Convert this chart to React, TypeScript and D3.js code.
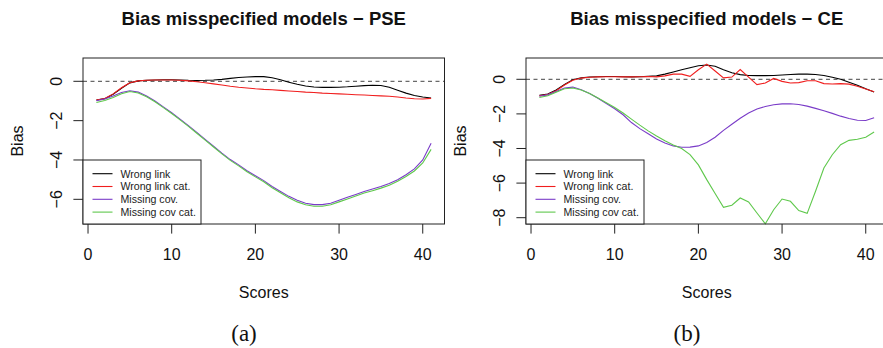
import React from "react";
import * as d3 from "d3";

const scores = [1,2,3,4,5,6,7,8,9,10,11,12,13,14,15,16,17,18,19,20,21,22,23,24,25,26,27,28,29,30,31,32,33,34,35,36,37,38,39,40,41];

const seriesNames = ["Wrong link", "Wrong link cat.", "Missing cov.", "Missing cov cat."];
const seriesColors = ["#000000", "#F01E1E", "#7A3CC8", "#5FC84C"];

// Panel (a): PSE
const wrongLinkPSE = [-0.95,-0.88,-0.66,-0.35,-0.08,0.02,0.05,0.07,0.08,0.08,0.07,0.05,0.04,0.05,0.07,0.1,0.15,0.19,0.22,0.24,0.24,0.18,0.08,-0.05,-0.15,-0.24,-0.29,-0.31,-0.31,-0.3,-0.28,-0.25,-0.22,-0.2,-0.21,-0.3,-0.45,-0.6,-0.72,-0.8,-0.85];
const wrongLinkCatPSE = [-0.95,-0.87,-0.64,-0.33,-0.07,0.02,0.05,0.07,0.07,0.07,0.05,0.02,-0.02,-0.07,-0.13,-0.19,-0.25,-0.3,-0.34,-0.38,-0.41,-0.43,-0.46,-0.49,-0.52,-0.55,-0.57,-0.6,-0.62,-0.64,-0.66,-0.68,-0.7,-0.72,-0.74,-0.76,-0.8,-0.85,-0.89,-0.9,-0.87];
const missingCovPSE = [-0.99,-0.9,-0.75,-0.57,-0.48,-0.55,-0.75,-1.0,-1.3,-1.6,-1.92,-2.25,-2.6,-2.95,-3.3,-3.65,-3.98,-4.25,-4.55,-4.8,-5.05,-5.35,-5.6,-5.85,-6.05,-6.2,-6.27,-6.27,-6.2,-6.05,-5.9,-5.75,-5.6,-5.48,-5.35,-5.2,-5.0,-4.75,-4.45,-4.0,-3.15];
const missingCovCatPSE = [-1.08,-0.98,-0.82,-0.63,-0.52,-0.59,-0.79,-1.04,-1.34,-1.64,-1.96,-2.29,-2.64,-2.99,-3.34,-3.69,-4.02,-4.3,-4.6,-4.86,-5.11,-5.41,-5.67,-5.92,-6.13,-6.28,-6.35,-6.35,-6.28,-6.13,-5.98,-5.83,-5.68,-5.56,-5.43,-5.28,-5.08,-4.84,-4.56,-4.15,-3.46];

// Panel (b): CE
const wrongLinkCE = [-0.92,-0.85,-0.62,-0.3,-0.03,0.08,0.13,0.15,0.16,0.16,0.15,0.14,0.15,0.17,0.2,0.3,0.42,0.55,0.67,0.78,0.83,0.75,0.55,0.38,0.27,0.22,0.21,0.21,0.22,0.25,0.28,0.3,0.3,0.28,0.22,0.12,0.0,-0.17,-0.35,-0.55,-0.73];
const wrongLinkCatCE = [-0.95,-0.88,-0.66,-0.33,-0.06,0.07,0.12,0.14,0.15,0.15,0.14,0.14,0.15,0.16,0.14,0.2,0.3,0.3,0.17,0.55,0.88,0.48,0.08,0.13,0.56,0.13,-0.31,-0.21,0.05,-0.12,-0.21,-0.19,-0.08,-0.08,-0.25,-0.27,-0.25,-0.28,-0.4,-0.56,-0.72];
const missingCovCE = [-0.98,-0.9,-0.7,-0.5,-0.45,-0.6,-0.82,-1.1,-1.4,-1.7,-2.05,-2.5,-2.85,-3.15,-3.45,-3.68,-3.85,-3.93,-3.92,-3.85,-3.65,-3.35,-2.95,-2.6,-2.25,-1.95,-1.72,-1.57,-1.47,-1.42,-1.41,-1.46,-1.55,-1.68,-1.82,-1.97,-2.13,-2.27,-2.37,-2.38,-2.22];
const missingCovCatCE = [-1.05,-0.95,-0.75,-0.55,-0.5,-0.62,-0.82,-1.08,-1.35,-1.63,-1.95,-2.3,-2.65,-2.98,-3.28,-3.55,-3.8,-4.0,-4.35,-4.95,-5.8,-6.6,-7.4,-7.28,-6.86,-7.09,-7.73,-8.35,-7.54,-6.92,-7.05,-7.59,-7.75,-6.47,-5.13,-4.36,-3.78,-3.53,-3.47,-3.35,-3.05];

const xTicks = [0, 10, 20, 30, 40];
const yTicksPSE = [0, -2, -4, -6];
const yTicksCE = [0, -2, -4, -6, -8];

const titles = ["Bias misspecified models \u2212 PSE", "Bias misspecified models \u2212 CE"];
const captions = ["(a)", "(b)"];

const FONT = "'Liberation Sans', Arial, Helvetica, sans-serif";

type PanelProps = {
  offsetX: number;
  title: string;
  caption: string;
  series: number[][];
  yDomain: [number, number];
  yTicks: number[];
};

function fmt(v: number) {
  return v < 0 ? "\u2212" + Math.abs(v) : String(v);
}

function Panel({ offsetX, title, caption, series, yDomain, yTicks }: PanelProps) {
  const left = 83 + offsetX;
  const right = left + 361.5;
  const top = 58;
  const bottom = 224;
  const x = d3.scaleLinear().domain([-0.6, 42.6]).range([left, right]);
  const y = d3.scaleLinear().domain(yDomain).range([bottom, top]);
  const line = d3
    .line<number>()
    .x((_, i) => x(scores[i]))
    .y((d) => y(d));
  const cx = (left + right) / 2;
  const cy = (top + bottom) / 2;
  const legW = 118;
  const legTop = 160;
  return (
    <g>
      <text x={cx} y={25} textAnchor="middle" fontFamily={FONT} fontWeight="bold" fontSize={18.5} fill="#111">
        {title}
      </text>
      <line x1={left} x2={right} y1={y(0)} y2={y(0)} stroke="#444" strokeWidth={1} strokeDasharray="4,3.5" />
      {series.map((s, k) => (
        <path key={k} d={line(s) || ""} fill="none" stroke={seriesColors[k]} strokeWidth={1.1} />
      ))}
      <rect x={left} y={top} width={right - left} height={bottom - top} fill="none" stroke="#222" strokeWidth={1} />
      {/* x axis */}
      {xTicks.map((t) => (
        <g key={t}>
          <line x1={x(t)} x2={x(t)} y1={bottom} y2={bottom + 9.6} stroke="#222" strokeWidth={1} />
          <text x={x(t)} y={260} textAnchor="middle" fontFamily={FONT} fontSize={16} fill="#111">
            {t}
          </text>
        </g>
      ))}
      <text x={cx} y={298} textAnchor="middle" fontFamily={FONT} fontSize={16} fill="#111">
        Scores
      </text>
      {/* y axis */}
      {yTicks.map((t) => (
        <g key={t}>
          <line x1={left - 9.6} x2={left} y1={y(t)} y2={y(t)} stroke="#222" strokeWidth={1} />
          <text
            transform={`translate(${left - 21.5},${y(t)}) rotate(-90)`}
            textAnchor="middle"
            fontFamily={FONT}
            fontSize={16}
            fill="#111"
          >
            {fmt(t)}
          </text>
        </g>
      ))}
      <text
        transform={`translate(${left - 60.5},${cy}) rotate(-90)`}
        textAnchor="middle"
        fontFamily={FONT}
        fontSize={16}
        fill="#111"
      >
        Bias
      </text>
      {/* legend */}
      <rect x={left} y={legTop} width={legW} height={bottom - legTop} fill="#fff" stroke="#222" strokeWidth={1} />
      {seriesNames.map((n, k) => {
        const ly = 173.7 + k * 12.8;
        return (
          <g key={n}>
            <line x1={left + 9.5} x2={left + 29.5} y1={ly} y2={ly} stroke={seriesColors[k]} strokeWidth={1.1} />
            <text x={left + 37.5} y={ly + 3.8} fontFamily={FONT} fontSize={10.6} fill="#222">
              {n}
            </text>
          </g>
        );
      })}
      <text
        x={offsetX + 244}
        y={341}
        textAnchor="middle"
        fontFamily="'Liberation Serif', 'DejaVu Serif', serif"
        fontSize={23}
        fill="#111"
      >
        {caption}
      </text>
    </g>
  );
}

export default function App() {
  return (
    <svg
      width={883}
      height={348}
      viewBox="0 0 883 348"
      style={{ position: "absolute", left: 0, top: 0, background: "#fff" }}
    >
      <rect x={0} y={0} width={883} height={348} fill="#fff" />
      <Panel
        offsetX={0}
        title={titles[0]}
        caption={captions[0]}
        series={[wrongLinkPSE, wrongLinkCatPSE, missingCovPSE, missingCovCatPSE]}
        yDomain={[-7.255, 1.185]}
        yTicks={yTicksPSE}
      />
      <Panel
        offsetX={443}
        title={titles[1]}
        caption={captions[1]}
        series={[wrongLinkCE, wrongLinkCatCE, missingCovCE, missingCovCatCE]}
        yDomain={[-8.364, 1.231]}
        yTicks={yTicksCE}
      />
    </svg>
  );
}
